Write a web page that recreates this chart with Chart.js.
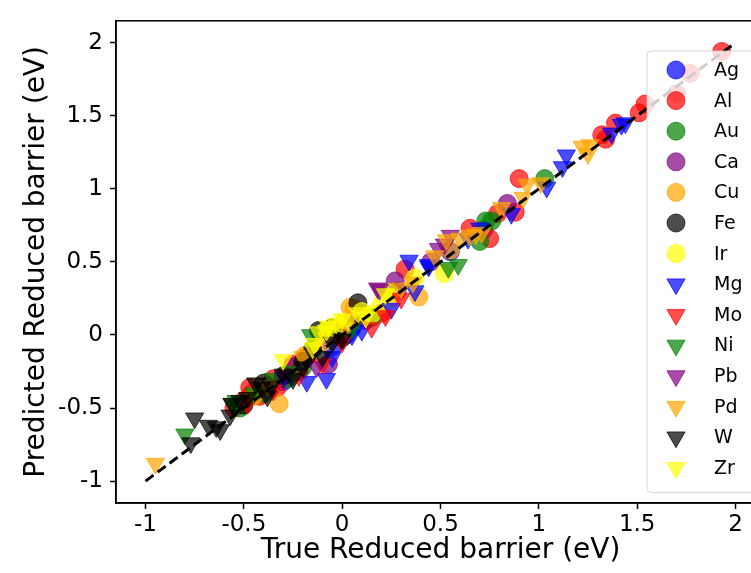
<!DOCTYPE html>
<html>
<head>
<meta charset="utf-8">
<script src="https://cdn.jsdelivr.net/npm/chart.js@4/dist/chart.umd.min.js"></script>
<style>
  html, body { margin: 0; padding: 0; overflow: hidden; background: #fff; }
  canvas { display: block; }
</style>
</head>
<body>
<canvas id="parityChart" width="780" height="573"></canvas>
<script>
"use strict";

// Series names, in plotting order (later ones drawn on top)
const seriesNames = ["Ag", "Al", "Au", "Ca", "Cu", "Fe", "Ir", "Mg", "Mo", "Ni", "Pb", "Pd", "W", "Zr"];

// [true, predicted] pairs (eV)
const agPoints = [[-0.40, -0.38], [-0.30, -0.32], [-0.22, -0.25], [-0.05, -0.08], [0.02, 0.00], [0.12, 0.10], [0.28, 0.30], [0.55, 0.57], [0.72, 0.72]];
const alPoints = [[1.93, 1.94], [1.77, 1.79], [1.70, 1.65], [1.54, 1.58], [1.51, 1.52], [1.39, 1.45], [1.32, 1.37], [1.34, 1.34],
                  [0.90, 1.07], [0.79, 0.83], [0.88, 0.84], [0.65, 0.73], [0.75, 0.66], [0.32, 0.45], [0.20, 0.15], [0.05, 0.10],
                  [-0.18, -0.15], [-0.25, -0.20], [-0.35, -0.30], [-0.33, -0.36], [-0.42, -0.42], [-0.47, -0.36], [-0.46, -0.40],
                  [-0.50, -0.45], [-0.55, -0.50]];
const auPoints = [[1.03, 1.07], [0.76, 0.78], [0.73, 0.78], [0.70, 0.64], [0.15, 0.12], [0.05, 0.05], [-0.15, -0.10], [-0.20, -0.22],
                  [-0.28, -0.30], [-0.40, -0.40], [-0.52, -0.50]];
const caPoints = [[0.84, 0.90], [0.45, 0.50], [0.27, 0.37], [0.10, 0.12], [-0.07, -0.20], [-0.25, -0.22], [-0.38, -0.35]];
const cuPoints = [[0.55, 0.58], [0.39, 0.26], [0.25, 0.25], [0.06, 0.18], [0.04, 0.19], [-0.02, 0.02], [-0.10, -0.05],
                  [-0.19, -0.14], [-0.32, -0.47], [-0.45, -0.42]];
const fePoints = [[0.08, 0.22], [-0.05, 0.05], [0.00, -0.02], [-0.12, 0.03], [-0.20, -0.18], [-0.30, -0.28], [-0.40, -0.33], [-0.50, -0.48]];
const irPoints = [[0.52, 0.42], [0.37, 0.39], [0.24, 0.29], [0.20, 0.21], [0.15, 0.14], [0.10, 0.16], [0.00, 0.08], [-0.08, 0.03]];
const mgPoints = [[1.42, 1.44], [1.44, 1.45], [1.37, 1.38], [1.14, 1.23], [1.12, 1.15], [1.04, 1.01], [0.86, 0.83], [0.70, 0.73],
                  [0.64, 0.66], [0.44, 0.47], [0.44, 0.48], [0.34, 0.51], [0.37, 0.30], [0.25, 0.18], [0.10, 0.03], [0.05, 0.00],
                  [-0.05, -0.15], [-0.08, -0.30], [-0.18, -0.32], [-0.30, -0.30]];
const moPoints = [[0.30, 0.25], [0.22, 0.13], [0.15, 0.05], [0.00, -0.05], [-0.10, -0.20], [-0.22, -0.28], [-0.35, -0.38], [-0.48, -0.47]];
const niPoints = [[0.59, 0.48], [0.54, 0.46], [0.05, 0.05], [-0.16, 0.00], [-0.25, -0.25], [-0.35, -0.30], [-0.45, -0.40],
                  [-0.54, -0.45], [-0.56, -0.47], [-0.80, -0.68]];
const pbPoints = [[0.55, 0.68], [0.52, 0.62], [0.49, 0.59], [0.19, 0.31], [0.18, 0.32], [0.05, 0.10], [-0.13, -0.22], [-0.30, -0.28]];
const pdPoints = [[1.22, 1.29], [1.26, 1.30], [1.25, 1.24], [0.94, 1.03], [1.01, 1.04], [0.92, 0.94], [0.81, 0.87], [0.71, 0.70],
                  [0.68, 0.69], [0.65, 0.68], [0.60, 0.66], [0.53, 0.65], [0.47, 0.54], [0.36, 0.36], [0.30, 0.32], [0.02, 0.05],
                  [-0.20, -0.15], [-0.38, -0.35], [-0.95, -0.88]];
const wPoints = [[0.00, -0.03], [-0.05, -0.05], [-0.10, -0.15], [-0.15, -0.12], [-0.20, -0.22], [-0.25, -0.30], [-0.30, -0.27],
                 [-0.36, -0.35], [-0.38, -0.42], [-0.41, -0.36], [-0.44, -0.33], [-0.48, -0.43], [-0.52, -0.45], [-0.56, -0.47],
                 [-0.57, -0.55], [-0.62, -0.65], [-0.64, -0.63], [-0.68, -0.62], [-0.75, -0.57], [-0.77, -0.74]];
const zrPoints = [[0.22, 0.28], [0.12, 0.12], [0.08, 0.15], [0.03, 0.10], [0.00, 0.11], [-0.03, 0.08], [-0.07, 0.06],
                  [-0.08, 0.03], [-0.12, 0.02], [-0.14, -0.06], [-0.15, -0.09], [-0.30, -0.17]];

const seriesPoints = [agPoints, alPoints, auPoints, caPoints, cuPoints, fePoints, irPoints,
                      mgPoints, moPoints, niPoints, pbPoints, pdPoints, wPoints, zrPoints];

// Parity line end points and tick labels
const parityLine = [-1, 2];
const xTicks = [-1, -0.5, 0, 0.5, 1, 1.5, 2];
const yTicks = [-1, -0.5, 0, 0.5, 1, 1.5, 2];

// Styles
const rgbList = ["0,0,255", "255,0,0", "0,128,0", "128,0,128", "255,165,0", "0,0,0", "255,255,0"];
const FONT = "'DejaVu Sans', sans-serif";
const ALPHA = 0.7;

function colorOf(i) { return `rgba(${rgbList[i % 7]},${ALPHA})`; }
function isTriangle(i) { return i >= 7; }

const datasets = seriesNames.map((name, i) => ({
  label: name,
  type: "scatter",
  data: seriesPoints[i].map(p => ({ x: p[0], y: p[1] })),
  backgroundColor: colorOf(i),
  borderColor: colorOf(i),
  borderWidth: 1,
  pointStyle: isTriangle(i) ? "triangle" : "circle",
  pointRotation: isTriangle(i) ? 180 : 0,
  pointRadius: isTriangle(i) ? 10.5 : 9,
  pointHoverRadius: isTriangle(i) ? 10.5 : 9,
  order: seriesNames.length - i   // Chart.js draws lower order on top
}));

datasets.push({
  label: "parity",
  type: "line",
  data: parityLine.map(v => ({ x: v, y: v })),
  borderColor: "#000",
  borderWidth: 3,
  borderDash: [10, 5],
  pointRadius: 0,
  fill: false,
  order: 0
});

// Top / right spines
const framePlugin = {
  id: "frame",
  afterDatasetsDraw(chart) {
    const { ctx, chartArea: a } = chart;
    ctx.save();
    ctx.strokeStyle = "#000";
    ctx.lineWidth = 1.5;
    ctx.strokeRect(a.left, a.top, a.right - a.left, a.bottom - a.top);
    ctx.restore();
  }
};

// Legend drawn inside the axes, like matplotlib's
const legendPlugin = {
  id: "insideLegend",
  afterDraw(chart) {
    const ctx = chart.ctx;
    const boxX = 647, boxY = 51, boxW = 140, rowH = 30.6;
    const boxH = rowH * seriesNames.length + 13;
    ctx.save();
    ctx.beginPath();
    ctx.roundRect(boxX, boxY, boxW, boxH, 4);
    ctx.fillStyle = "rgba(255,255,255,0.8)";
    ctx.fill();
    ctx.strokeStyle = "rgba(204,204,204,0.8)";
    ctx.lineWidth = 1;
    ctx.stroke();

    ctx.font = `19px ${FONT}`;
    ctx.textBaseline = "middle";
    seriesNames.forEach((name, i) => {
      const cy = boxY + 19 + i * rowH;
      const cx = 676;
      ctx.fillStyle = colorOf(i);
      ctx.strokeStyle = colorOf(i);
      ctx.beginPath();
      if (isTriangle(i)) {
        const r = 10.5;
        ctx.moveTo(cx, cy + r);
        ctx.lineTo(cx - r * Math.sin(Math.PI / 3), cy - r / 2);
        ctx.lineTo(cx + r * Math.sin(Math.PI / 3), cy - r / 2);
        ctx.closePath();
      } else {
        ctx.arc(cx, cy, 9, 0, Math.PI * 2);
      }
      ctx.fill();
      ctx.stroke();
      ctx.fillStyle = "#000";
      ctx.fillText(name, 714, cy + 1);
    });
    ctx.restore();
  }
};

const ctx = document.getElementById("parityChart").getContext("2d");
new Chart(ctx, {
  type: "scatter",
  data: { datasets },
  options: {
    responsive: false,
    animation: false,
    layout: { padding: { left: 0, top: 12, right: 15, bottom: 0 } },
    plugins: { legend: { display: false }, tooltip: { enabled: false } },
    scales: {
      x: {
        type: "linear",
        min: -1.15,
        max: 2.15,
        afterBuildTicks: s => { s.ticks = xTicks.map(v => ({ value: v })); },
        afterFit: s => { s.height = 70; },
        grid: { drawOnChartArea: false, drawTicks: true, tickLength: 6, color: "#000", tickWidth: 1.5 },
        border: { display: true, color: "#000", width: 1.5 },
        ticks: { color: "#000", font: { family: FONT, size: 23 }, padding: 2, maxRotation: 0, callback: v => String(v) },
        title: { display: true, text: "True Reduced barrier (eV)", color: "#000",
                 font: { family: FONT, size: 28 }, padding: { top: 0, bottom: 5 } }
      },
      y: {
        type: "linear",
        min: -1.15,
        max: 2.15,
        afterBuildTicks: s => { s.ticks = yTicks.map(v => ({ value: v })); },
        afterFit: s => { s.width = 116; },
        grid: { drawOnChartArea: false, drawTicks: true, tickLength: 6, color: "#000", tickWidth: 1.5 },
        border: { display: true, color: "#000", width: 1.5 },
        ticks: { color: "#000", font: { family: FONT, size: 23 }, padding: 7, callback: v => String(v) },
        title: { display: true, text: "Predicted Reduced barrier (eV)", color: "#000",
                 font: { family: FONT, size: 28 }, padding: { top: 20, bottom: 0 } }
      }
    }
  },
  plugins: [framePlugin, legendPlugin]
});
</script>
</body>
</html>
